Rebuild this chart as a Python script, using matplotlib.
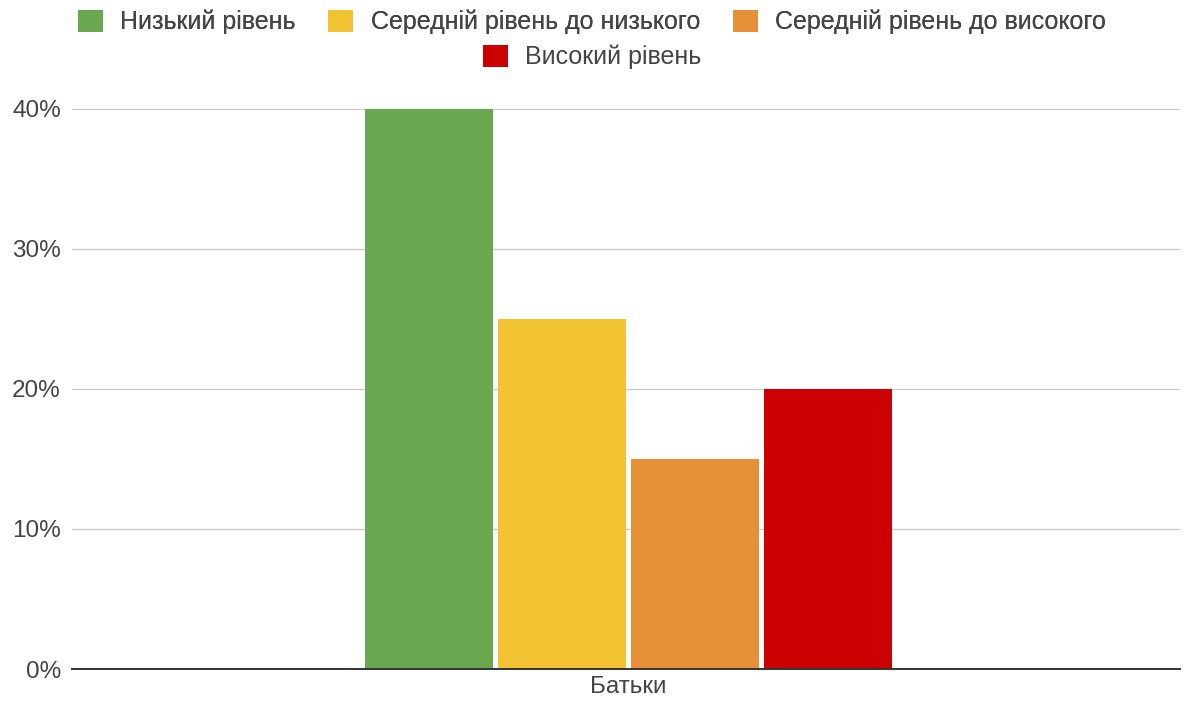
import numpy as np
import matplotlib.pyplot as plt
from matplotlib.ticker import PercentFormatter

plt.rcParams['font.family'] = ['Liberation Sans', 'DejaVu Sans']

group = ["Батьки"]
levels = ["Низький рівень", "Середній рівень до низького",
          "Середній рівень до високого", "Високий рівень"]
values = [0.40, 0.25, 0.15, 0.20]
colors = ["#6aa84f", "#f1c232", "#e69138", "#cc0000"]
yticks = [0.0, 0.1, 0.2, 0.3, 0.4]

fs = 17.5
fig = plt.figure(figsize=(11.84, 7.06), dpi=100)
ax = fig.add_axes([72 / 1184, 1 - 669 / 706, 1108 / 1184, (669 - 107) / 706])

width = 0.231
step = 0.240
offsets = (np.arange(len(levels)) - (len(levels) - 1) / 2) * step
bars = []
for off, v, c, name in zip(offsets, values, colors, levels):
    b = ax.bar(off, v, width=width, color=c, label=name, zorder=3)
    bars.append(b)

ax.set_xlim(-1.0045, 0.9955)
ax.set_ylim(0, 0.4012)
ax.set_yticks(yticks)
ax.yaxis.set_major_formatter(PercentFormatter(1.0, decimals=0))
ax.set_xticks([0])
ax.set_xticklabels(group)

ax.grid(axis='y', color='#cccccc', linewidth=1, zorder=0)
for s in ['top', 'right', 'left']:
    ax.spines[s].set_visible(False)
ax.spines['bottom'].set_color('#333333')
ax.spines['bottom'].set_linewidth(1.4)
ax.spines['bottom'].set_zorder(4)
ax.tick_params(axis='both', length=0, labelsize=fs, labelcolor='#444444')
ax.tick_params(axis='y', pad=8)
ax.tick_params(axis='x', pad=5)

# legend: three entries on the first row, the last one centred below
kw = dict(loc='center', frameon=False, fontsize=18, handlelength=1.0,
          handleheight=1.0, handletextpad=0.7, columnspacing=1.3,
          labelcolor='#444444')
leg1 = fig.legend(handles=bars[:3], bbox_to_anchor=(0.5, 1 - 22 / 706), ncol=3, **kw)
fig.add_artist(leg1)
fig.legend(handles=bars[3:], bbox_to_anchor=(0.5, 1 - 57 / 706), ncol=1, **kw)

fig.savefig("out.png", dpi=100)
